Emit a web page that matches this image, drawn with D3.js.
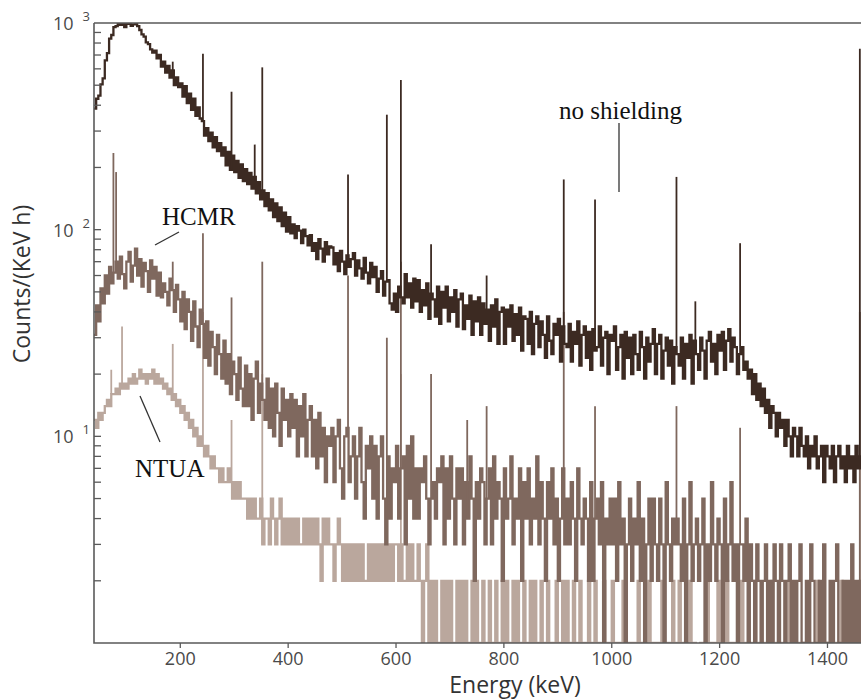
<!DOCTYPE html>
<html><head><meta charset="utf-8">
<script src="https://cdn.jsdelivr.net/npm/d3@7"></script>
<style>body{margin:0;background:#fff}svg{display:block}</style>
</head><body><svg id="c" width="861" height="700"></svg>
<script>
// channel start energy (keV) and width (keV)
const E0 = 40, BIN = 4;

// "no shielding" spectrum, counts/(keV h), bin i covers [E0+4i, E0+4i+4)
const noShielding = [
385,430,445,505,540,660,715,840,875,955,
965,1000,980,1000,955,990,1000,970,985,1000,
965,925,880,860,805,790,745,720,735,675,
700,615,650,575,620,545,590,500,545,490,
510,440,495,410,455,380,430,355,390,345,
335,285,310,268,295,250,280,240,262,228,
250,205,238,195,228,190,215,178,207,172,
196,166,188,158,180,150,170,140,155,130,
150,124,140,115,134,110,128,104,121,98,
115,96,106,91,104,99,86,100,93,84,
94,79,86,72,90,81,70,87,76,83,
82,68,77,63,79,70,61,75,66,72,
77,60,71,65,58,73,62,55,69,59,
66,50,58,63,48,56,57,44,41,49,
40,53,47,44,61,47,55,42,58,45,
57,40,51,43,55,37,49,46,38,53,
35,50,42,53,36,47,40,51,34,46,
49,33,43,37,48,31,45,36,47,31,
44,35,41,29,43,34,46,28,40,42,
28,41,34,43,29,39,31,42,26,38,
37,28,40,25,35,38,27,36,31,24,
38,29,25,35,31,37,23,34,28,27,
35,23,32,28,36,22,31,34,24,32,
21,33,26,27,34,22,30,32,20,31,
29,34,21,27,31,19,32,24,30,20,
31,25,21,32,27,19,30,23,28,33,
20,28,31,19,26,30,22,29,18,27,
25,22,30,19,28,24,31,18,29,25,
21,30,26,19,29,32,23,28,20,31,
26,32,21,29,33,23,30,27,20,25,
27,21,23,19,21,16,20,15,18,14,
17,13,15,11,14,13,10,13,11,12,
9,12,10,8,11,10,8,11,9,8,
10,7,9,8,10,7,8,9,6,9,
8,7,9,6,8,9,7,8,6,9,
7,8,6,9,7,8,8
];

// HCMR spectrum
const hcmr = [
31,43,36,52,44,60,49,66,55,62,
70,58,74,61,52,70,78,56,67,81,
60,72,53,69,63,50,71,58,66,48,
62,47,55,50,43,58,51,40,54,46,
36,50,33,46,40,29,45,34,27,41,
35,24,36,22,32,27,20,31,25,19,
29,18,25,16,23,20,15,24,17,14,
22,14,20,12,19,23,13,18,15,12,
19,11,17,10,18,13,9,17,12,15,
10,16,11,15,8,14,10,16,8,12,
14,8,12,7,13,8,11,6,10,9,
11,6,10,12,7,5,10,11,6,8,
10,5,8,11,6,4,9,7,10,5,
9,4,8,10,5,3,8,4,7,6,
9,4,7,8,3,9,5,10,4,7,
4,7,6,8,5,3,5,6,4,7,
6,8,3,7,4,8,5,3,7,5,
7,3,6,4,8,5,2,6,4,7,
6,3,5,7,3,8,4,6,5,2,
7,4,5,8,3,5,4,7,2,6,
4,7,3,5,4,8,3,6,4,2,
6,4,7,3,5,2,4,7,3,5,
3,6,4,2,7,4,3,5,4,2,
6,2,4,5,3,6,1,4,3,5,
3,5,2,6,3,4,1,3,5,2,
4,3,6,2,4,1,3,5,2,5,
3,2,5,3,1,6,3,2,4,3,
4,3,2,5,1,3,6,2,3,4,
2,3,5,1,3,2,6,3,2,4,
3,1,5,2,3,6,2,3,1,3,
3,2,4,1,3,2,0,3,2,1,
2,3,1,2,0,3,2,1,3,2,
1,2,3,0,2,1,2,3,1,0,
2,1,3,2,0,1,2,1,3,1,
0,2,1,2,3,1,0,2,1,2,
1,3,0,2,1,2,2
];

// NTUA spectrum
const ntua = [
12,11,13,12,13,14,15,14,16,16,
17,16,18,17,18,17,19,18,20,18,
19,21,19,20,18,20,19,21,18,20,
18,19,17,18,16,17,15,16,14,15,
13,14,12,13,11,12,10,11,9,10,
9,8,9,8,7,8,7,7,6,7,
6,6,7,6,5,6,5,6,5,5,
5,4,5,4,5,4,4,5,3,4,
4,3,5,4,3,4,5,3,4,3,
4,3,4,3,4,3,3,4,3,4,
3,4,3,4,3,2,4,3,4,3,
3,2,3,4,3,2,3,2,3,2,
3,2,3,2,3,2,2,3,2,3,
2,3,2,3,2,3,2,3,2,3,
3,2,3,2,2,3,2,3,2,2,
3,2,1,2,3,1,2,0,2,1,
1,2,0,2,1,2,1,0,2,1,
2,1,2,0,1,2,1,2,0,1,
2,1,0,2,1,1,2,0,1,2,
1,2,1,0,2,1,2,1,0,2,
1,0,2,1,2,0,1,2,1,0,
2,1,1,0,2,1,0,2,1,2,
0,1,2,1,0,2,1,0,1,2,
1,0,2,1,1,0,2,1,0,1,
2,0,1,1,0,2,1,0,1,1,
0,1,2,0,1,1,0,2,1,0,
1,0,1,2,0,1,0,1,2,0,
1,2,0,1,0,1,2,0,1,0,
0,1,1,0,2,0,1,0,1,2,
1,0,1,2,0,1,0,1,0,1,
2,0,1,0,1,0,2,1,0,1,
0,1,0,1,2,0,1,0,1,0,
1,0,2,0,1,0,1,1,0,1,
0,1,0,1,0,2,0,1,0,1,
1,0,1,0,1,0,2,0,1,0,
0,1,0,1,0,2,1
];

// gamma lines: [energy keV, peak height counts/(keV h)]
const noShieldingPeaks = [[186,650],[242,710],[295,465],[338,258],[352,610],[511,185],[583,360],[609,530],[665,85],[768,60],[911,175],[969,140],[1120,180],[1155,45],[1238,86],[1460,750]];
const hcmrPeaks = [[76,235],[81,190],[186,70],[242,96],[295,47],[352,70],[511,60],[583,30],[609,70],[665,20],[732,12],[768,14],[911,40],[969,14],[1120,14],[1238,11],[1460,40]];
const ntuaPeaks = [[72,21],[92,34],[186,28],[242,40],[295,12],[352,20],[609,20],[1460,8]];

const xTicks = [200,400,600,800,1000,1200,1400];
const yDecades = [1,2,3];
const xTitle = "Energy (keV)";
const yTitle = "Counts/(KeV h)";

const svg = d3.select("#c");
const L = 94, R = 862, T = 23, B = 643;
const x = d3.scaleLinear().domain([40,1464]).range([L,R]);
const y = d3.scaleLog().domain([1,1000]).range([B,T]);
const yc = v => y(Math.max(v,0.6));

svg.append("clipPath").attr("id","clip").append("rect")
  .attr("x",L).attr("y",T).attr("width",R-L).attr("height",B-T);

function build(cont){
  const pts = cont.map((c,i)=>({e:E0+i*BIN,c}));
  pts.push({e:E0+cont.length*BIN,c:cont[cont.length-1]});
  return pts;
}
function contAt(c,e){ return c[Math.min(c.length-1,Math.floor((e-E0)/BIN))]; }
const line = d3.line().curve(d3.curveStepAfter).x(d=>x(d.e)).y(d=>yc(d.c));

const g = svg.append("g").attr("clip-path","url(#clip)");
[[ntua,ntuaPeaks,"#baa79d"],[hcmr,hcmrPeaks,"#7f685e"],[noShielding,noShieldingPeaks,"#3c2a22"]]
.forEach(([c,p,col])=>{
  g.append("path").datum(build(c)).attr("d",line)
   .attr("fill","none").attr("stroke",col).attr("stroke-width",2.3);
  g.append("g").selectAll("line").data(p).join("line")
   .attr("x1",d=>x(d[0])).attr("x2",d=>x(d[0]))
   .attr("y1",d=>yc(contAt(c,d[0]))).attr("y2",d=>y(d[1]))
   .attr("stroke",col).attr("stroke-width",1.8);
});

// frame
const axisCol = "#5a5a5a";
svg.append("path").attr("d",`M${L},${T}H861M${L},${T}V${B}H861`)
  .attr("fill","none").attr("stroke",axisCol).attr("stroke-width",1.6);

// y ticks (inward)
const yt = [];
yDecades.forEach(k=>{ for(let m=1;m<=9;m++){ const v=m*Math.pow(10,k-1); if(v>1&&v<=1000) yt.push(v);} });
svg.append("g").selectAll("line").data(yt).join("line")
  .attr("x1",L).attr("x2",L+7).attr("y1",d=>y(d)).attr("y2",d=>y(d))
  .attr("stroke",axisCol).attr("stroke-width",1.3);

// y labels 10^k
const yl = svg.append("g").attr("font-family","'Open Sans',sans-serif").attr("fill","#4a4a4a");
yDecades.forEach(k=>{
  const yy = y(Math.pow(10,k));
  const t = yl.append("text").attr("x",53).attr("y",yy+7).attr("font-size",18);
  t.append("tspan").text("10");
  t.append("tspan").attr("dx",9).attr("dy",-9).attr("font-size",13).text(k);
});

// x ticks (outward)
svg.append("g").selectAll("line").data(xTicks).join("line")
  .attr("x1",d=>x(d)).attr("x2",d=>x(d)).attr("y1",B).attr("y2",B+5)
  .attr("stroke",axisCol).attr("stroke-width",1.3);
svg.append("g").selectAll("text").data(xTicks).join("text")
  .attr("x",d=>x(d)).attr("y",665).attr("text-anchor","middle")
  .attr("font-family","'Open Sans',sans-serif").attr("font-size",18).attr("fill","#4a4a4a")
  .text(d=>d);

// axis titles
svg.append("text").attr("x",515).attr("y",693).attr("text-anchor","middle")
  .attr("font-family","'Open Sans',sans-serif").attr("font-size",23).attr("fill","#333")
  .text(xTitle);
svg.append("text").attr("transform","translate(30,284) rotate(-90)").attr("text-anchor","middle")
  .attr("font-family","'Open Sans',sans-serif").attr("font-size",23).attr("fill","#333")
  .text(yTitle);

// annotations
const ann = svg.append("g").attr("font-family","'Liberation Serif','Times New Roman',serif")
  .attr("font-size",25).attr("fill","#111");
ann.append("text").attr("x",559).attr("y",119).text("no shielding");
ann.append("text").attr("x",162).attr("y",225).text("HCMR");
ann.append("text").attr("x",135).attr("y",477).text("NTUA");
const ptr = [[619,123,619,192],[155,245,179,232],[140,396,160,442]];
svg.append("g").selectAll("line").data(ptr).join("line")
  .attr("x1",d=>d[0]).attr("y1",d=>d[1]).attr("x2",d=>d[2]).attr("y2",d=>d[3])
  .attr("stroke","#333").attr("stroke-width",1.3);
</script></body></html>
